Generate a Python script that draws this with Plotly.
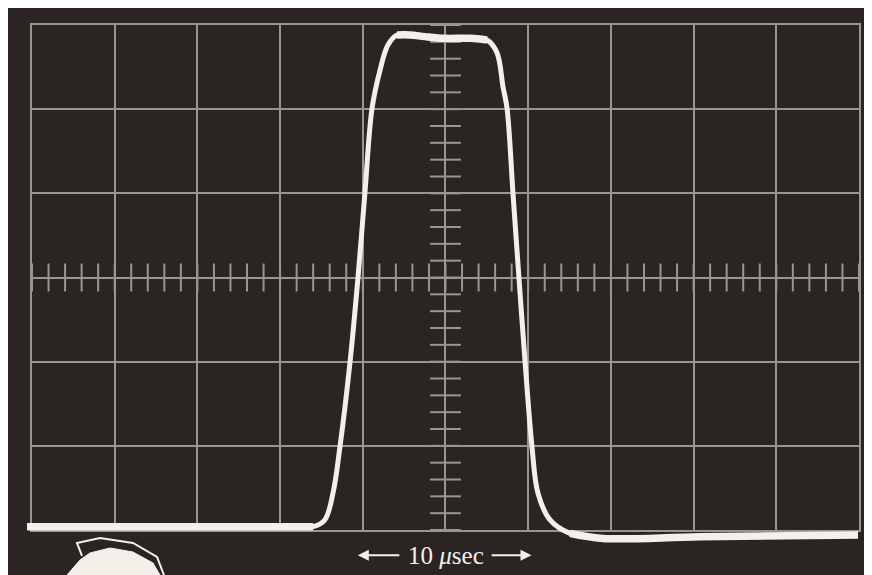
"""Oscilloscope trace of a 10 usec pulse, redrawn with Plotly."""
import numpy as np
import plotly.graph_objects as go

# time in microseconds (5 usec per division), amplitude in divisions
time_us = [-0.3, 10.0, 16.2, 17.0, 17.7, 18.2, 18.62, 19.23, 19.71, 20.13,
           20.56, 21.04, 21.52, 22.07, 22.85, 23.76, 24.97, 26.48, 27.51,
           28.11, 28.48, 28.72, 29.08, 29.44, 29.81, 30.23, 30.59, 31.32,
           32.53, 34.52, 40.4, 49.94]
amplitude_div = [0.04, 0.04, 0.04, 0.04, 0.12, 0.44, 0.99, 2.0, 3.0, 4.01,
                 5.01, 5.46, 5.76, 5.88, 5.88, 5.86, 5.84, 5.84, 5.82,
                 5.67, 5.26, 5.01, 4.0, 3.0, 2.0, 0.99, 0.44, 0.12,
                 -0.04, -0.10, -0.08, -0.06]

x_divisions = list(range(0, 55, 5))   # 10 major divisions, 5 usec each
y_divisions = list(range(0, 7))       # 6 major divisions
minor_x = np.arange(0, 50.01, 1.0)    # 5 minor ticks per division
minor_y = np.arange(0, 6.01, 0.2)

label_text = "10 <i>μ</i>sec"

BG = "#2a2522"
GRID = "#9a958f"
TRACE = "#f3f0e9"

fig = go.Figure()

# graticule minor ticks on the centre lines
fig.add_trace(go.Scatter(
    x=[25] * len(minor_y), y=minor_y, mode="markers", cliponaxis=False,
    marker=dict(symbol="line-ew", size=22, line=dict(color=GRID, width=2)),
    hoverinfo="skip", showlegend=False,
))
fig.add_trace(go.Scatter(
    x=minor_x, y=[3] * len(minor_x), mode="markers", cliponaxis=False,
    marker=dict(symbol="line-ns", size=20, line=dict(color=GRID, width=2)),
    hoverinfo="skip", showlegend=False,
))

# the pulse (on the full-size overlay axes, so it is not clipped at the frame)
fig.add_trace(go.Scatter(
    x=time_us, y=amplitude_div, mode="lines", xaxis="x2", yaxis="y2",
    line=dict(color=TRACE, width=5, shape="spline", smoothing=1.0),
    showlegend=False,
))
# flat parts of the trace are brighter / wider on the photo
for sl in (slice(0, 4), slice(13, 19), slice(28, None)):
    fig.add_trace(go.Scatter(
        x=time_us[sl], y=amplitude_div[sl], mode="lines",
        xaxis="x2", yaxis="y2",
        line=dict(color=TRACE, width=7.5, shape="spline", smoothing=1.0),
        showlegend=False,
    ))

# "<- 10 usec ->" label under the pulse
fig.add_annotation(x=25, y=-0.30, xref="x2", yref="y2", text=label_text,
                   showarrow=False,
                   font=dict(family="Liberation Serif", size=25, color=TRACE))
for head, tail in ((19.7, 22.3), (30.2, 27.7)):
    fig.add_annotation(x=head, y=-0.30, ax=tail, ay=-0.30,
                       xref="x2", yref="y2", axref="x2", ayref="y2",
                       text="", showarrow=True, arrowhead=2, arrowsize=1.1,
                       arrowwidth=2, arrowcolor=TRACE)

# the curled sticker at bottom-left of the photo
fig.add_shape(type="path", xref="paper", yref="paper",
              path=("M 0.0640 0 L 0.0677 0.0139 L 0.0826 0.0400 "
                    "L 0.0940 0.0522 L 0.1170 0.0609 L 0.1433 0.0539 "
                    "L 0.1663 0.0348 L 0.1743 0.0139 L 0.1760 0 Z"),
              fillcolor=TRACE, line=dict(color=TRACE, width=1))
fig.add_shape(type="path", xref="paper", yref="paper",
              path=("M 0.0849 0.0470 L 0.0791 0.0696 L 0.1055 0.0783 "
                    "L 0.1433 0.0696 L 0.1709 0.0452 L 0.1823 0"),
              line=dict(color=TRACE, width=2))

# graticule: 10 x 6 divisions, bounded by its own frame
fig.update_layout(
    xaxis=dict(
        domain=[0.02752, 0.97592], range=[0, 50], tickvals=x_divisions,
        showticklabels=False, showgrid=True, gridcolor=GRID, gridwidth=2,
        zeroline=False, showline=True, mirror=True, linecolor=GRID,
        linewidth=2, ticks="", anchor="y",
    ),
    yaxis=dict(
        domain=[0.09217, 0.97043], range=[0, 6], tickvals=y_divisions,
        showticklabels=False, showgrid=True, gridcolor=GRID, gridwidth=2,
        zeroline=False, showline=True, mirror=True, linecolor=GRID,
        linewidth=2, ticks="", anchor="x",
    ),
    # overlay axes over the whole photo, same scale as the graticule
    xaxis2=dict(domain=[0, 1], range=[-1.451, 51.27], anchor="y2",
                visible=False, showgrid=False, zeroline=False),
    yaxis2=dict(domain=[0, 1], range=[-0.629, 6.2], anchor="x2",
                visible=False, showgrid=False, zeroline=False),
    width=872, height=575,
    margin=dict(l=0, r=0, t=0, b=0),
    plot_bgcolor="rgba(0,0,0,0)",
    paper_bgcolor=BG,
)

fig.write_html("out.html")
